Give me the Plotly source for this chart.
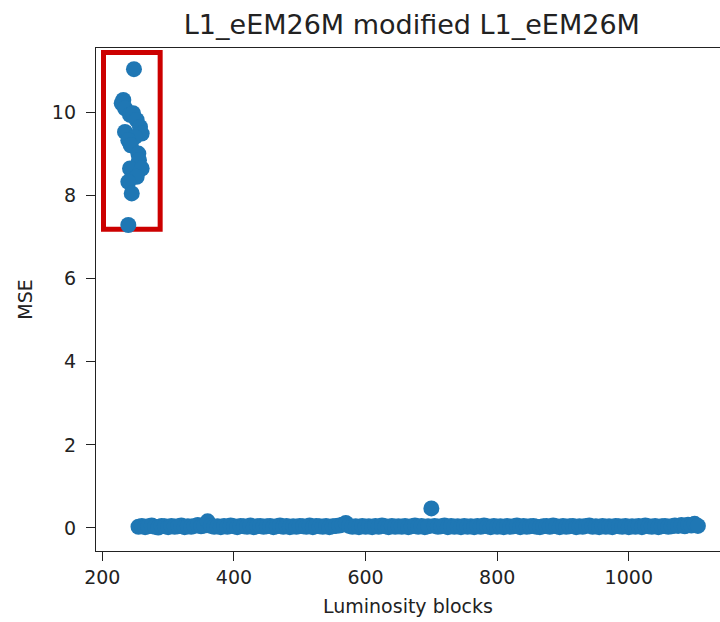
import plotly.graph_objects as go

# --- data -------------------------------------------------------------
cluster_lumi = [248.1, 231.9, 229.5, 234.5, 242.1, 246.6, 252.2, 257.3, 234.5, 259.8,
                249.7, 239.5, 243.1, 254.7, 255.7, 242.1, 259.8, 252.2, 239.5, 244.7, 239.5]
cluster_mse = [11.04, 10.30, 10.22, 10.10, 9.94, 9.98, 9.82, 9.65, 9.53, 9.49,
               9.41, 9.33, 9.21, 9.01, 8.85, 8.65, 8.65, 8.45, 8.33, 8.05, 7.29]

base_lumi = [255, 260, 265, 270, 275, 280, 285, 290, 295, 300,
             305, 310, 315, 320, 325, 330, 335, 340, 345, 350,
             355, 360, 365, 370, 375, 380, 385, 390, 395, 400,
             405, 410, 415, 420, 425, 430, 435, 440, 445, 450,
             455, 460, 465, 470, 475, 480, 485, 490, 495, 500,
             505, 510, 515, 520, 525, 530, 535, 540, 545, 550,
             555, 560, 565, 570, 575, 580, 585, 590, 595, 600,
             605, 610, 615, 620, 625, 630, 635, 640, 645, 650,
             655, 660, 665, 670, 675, 680, 685, 690, 695, 700,
             705, 710, 715, 720, 725, 730, 735, 740, 745, 750,
             755, 760, 765, 770, 775, 780, 785, 790, 795, 800,
             805, 810, 815, 820, 825, 830, 835, 840, 845, 850,
             855, 860, 865, 870, 875, 880, 885, 890, 895, 900,
             905, 910, 915, 920, 925, 930, 935, 940, 945, 950,
             955, 960, 965, 970, 975, 980, 985, 990, 995, 1000,
             1005, 1010, 1015, 1020, 1025, 1030, 1035, 1040, 1045, 1050,
             1055, 1060, 1065, 1070, 1075, 1080, 1085, 1090, 1095, 1100,
             1105]
base_mse = [0.03, 0.05, 0.02, 0.04, 0.06, 0.03, 0.01, 0.05, 0.04, 0.02,
            0.05, 0.03, 0.04, 0.06, 0.02, 0.04, 0.03, 0.05, 0.07, 0.04,
            0.06, 0.16, 0.05, 0.03, 0.04, 0.02, 0.05, 0.03, 0.06, 0.04,
            0.02, 0.05, 0.04, 0.03, 0.06, 0.02, 0.04, 0.05, 0.03, 0.04,
            0.05, 0.02, 0.04, 0.06, 0.03, 0.05, 0.02, 0.04, 0.03, 0.05,
            0.04, 0.03, 0.06, 0.02, 0.05, 0.04, 0.03, 0.05, 0.02, 0.04,
            0.05, 0.06, 0.08, 0.12, 0.05, 0.03, 0.04, 0.02, 0.05, 0.03,
            0.04, 0.02, 0.05, 0.03, 0.06, 0.04, 0.02, 0.05, 0.03, 0.04,
            0.03, 0.05, 0.02, 0.04, 0.06, 0.03, 0.05, 0.02, 0.04, 0.47,
            0.05, 0.03, 0.04, 0.06, 0.02, 0.05, 0.03, 0.04, 0.02, 0.05,
            0.03, 0.04, 0.02, 0.05, 0.03, 0.06, 0.04, 0.02, 0.05, 0.03,
            0.04, 0.02, 0.05, 0.03, 0.04, 0.06, 0.02, 0.05, 0.03, 0.04,
            0.05, 0.03, 0.02, 0.04, 0.05, 0.03, 0.06, 0.04, 0.02, 0.05,
            0.03, 0.04, 0.05, 0.02, 0.04, 0.03, 0.05, 0.06, 0.03, 0.04,
            0.02, 0.05, 0.03, 0.04, 0.02, 0.05, 0.04, 0.03, 0.05, 0.02,
            0.04, 0.03, 0.05, 0.02, 0.06, 0.04, 0.03, 0.05, 0.02, 0.04,
            0.05, 0.03, 0.04, 0.06, 0.05, 0.07, 0.04, 0.08, 0.06, 0.10,
            0.05]

x_ticks = [200, 400, 600, 800, 1000]
y_ticks = [0, 2, 4, 6, 8, 10]

# highlight box around the anomalous blocks (data coords)
box_lumi = [201.8, 287.9]
box_mse = [7.19, 11.44]

title = "L1_eEM26M modified L1_eEM26M"
x_label = "Luminosity blocks"
y_label = "MSE"

# --- figure -----------------------------------------------------------
blue = "#1f77b4"
fig = go.Figure()
fig.add_trace(go.Scatter(x=base_lumi + cluster_lumi, y=base_mse + cluster_mse,
                         mode="markers",
                         marker=dict(size=16, color=blue, line=dict(width=0)),
                         showlegend=False, hoverinfo="skip"))

fig.add_shape(type="rect", xref="x", yref="y",
              x0=box_lumi[0], x1=box_lumi[1], y0=box_mse[0], y1=box_mse[1],
              line=dict(color="#cc0000", width=5), layer="below")

font = "DejaVu Sans"
fig.update_layout(
    width=720, height=622,
    margin=dict(l=96, r=0, t=48, b=71),
    paper_bgcolor="white", plot_bgcolor="white",
    font=dict(family=font, size=19, color="#222"),
    title=dict(text=title, x=0.572, xanchor="center", y=0.961, yanchor="middle",
               font=dict(family=font, size=27, color="#222")),
)
fig.update_xaxes(range=[190.4, 1138.6], tickvals=x_ticks, ticks="outside", ticklen=9,
                 tickwidth=1.3, tickcolor="#222", showline=True, linecolor="#222",
                 linewidth=1.3, mirror=True, showgrid=False, zeroline=False,
                 ticklabelstandoff=0,
                 title=dict(text=x_label, standoff=12, font=dict(size=19)))
fig.update_yaxes(range=[-0.554, 11.55], tickvals=y_ticks, ticks="outside", ticklen=9,
                 tickwidth=1.3, tickcolor="#222", showline=True, linecolor="#222",
                 linewidth=1.3, showgrid=False, zeroline=False,
                 ticklabelstandoff=6,
                 title=dict(text=y_label, standoff=14, font=dict(size=19)))

fig.write_html("out.html")
